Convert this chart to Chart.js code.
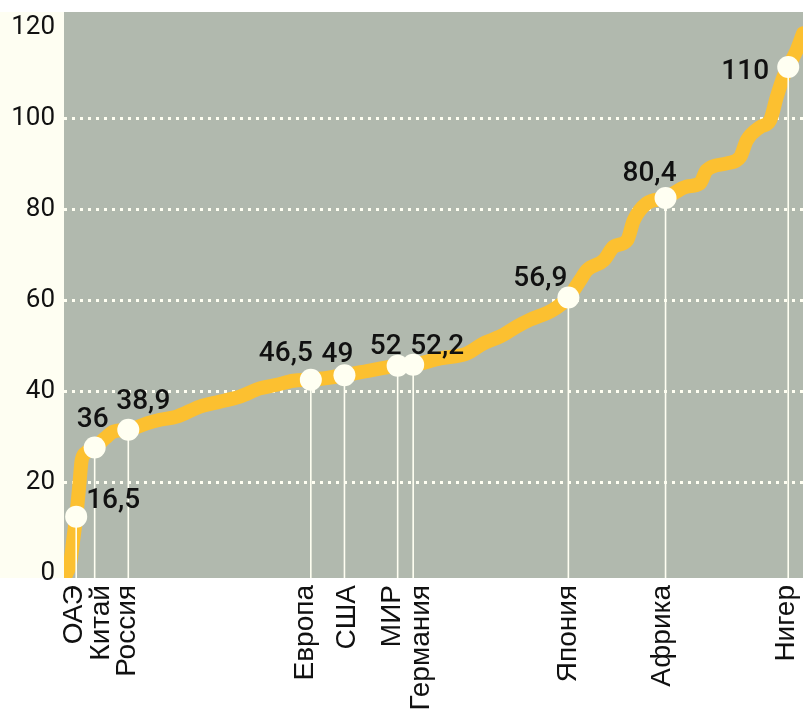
<!DOCTYPE html>
<html><head><meta charset="utf-8">
<script src="https://cdn.jsdelivr.net/npm/chart.js@4"></script>
<style>html,body{margin:0;padding:0;background:#fff}#wrap{width:803px;height:714px;position:relative}</style>
</head><body><div id="wrap"><canvas id="c" width="803" height="714"></canvas></div>
<script>
// ---- data ----
const curveRank = [0,1.6,2.6,3.3,4.1,4.8,6,8.3,11.2,13.4,17.4,22.4,26,30.5,36.8,42.2,47.6,53,57.6,62.1,66.8,75.9,83.7,90.3,94.5,101.8,109,113.5,118,122.5,126.1,132.4,136.5,139.7,141.5,146.1,148.8,152.4,154.2,157.7,162.8,168.5,172.1,173.9,179.4,183,184.8,188.4,191.1,192.9,194.7,196,198.3,200];
const curveValue = [-1,2,8,12.5,19,25,26.6,27.7,29.8,31.2,31.6,33.0,33.8,34.5,36.7,37.8,38.9,40.7,41.5,42.4,42.6,43.6,44.8,45.7,45.9,47.3,48.4,50.6,52.1,54.3,55.8,58.0,60.7,64.5,66.7,68.9,71.9,73.3,77.7,81.4,82.6,85.1,85.8,88.7,90.2,91.6,95.3,98.2,99.7,104.8,109.2,111.4,115.1,118.8];
const markerNames = ['ОАЭ','Китай','Россия','Европа','США','МИР','Германия','Япония','Африка','Нигер'];
const markerRank = [3.3,8.3,17.4,66.8,75.9,90.3,94.5,136.5,162.8,196];
const markerValue = [12.5,27.7,31.6,42.6,43.6,45.7,45.9,60.7,82.6,111.4];
const markerLabels = ['16,5','36','38,9','46,5','49','52','52,2','56,9','80,4','110'];
const yTickValues = [0,20,40,60,80,100,120];

// ---- layout nudges (pixels) ----
const labelDX = [37,-2,15,-25,-7,-12,24,-28,-16,-43];
const labelDY = [-19,-31,-31,-29,-23,-22,-21,-22,-27,2];
const nameDX = [-4,4.5,-3,-8,1,-8,6,-2,-6,-4];

const PLOT_BG = '#b1b9ae';
const CREAM = '#fefef2';
const YELLOW = '#fcc030';
const DOT = '#fffff2';

const decor = {
  id: 'decor',
  beforeDraw(chart) {
    const {ctx, chartArea: a} = chart;
    ctx.save();
    ctx.fillStyle = CREAM;
    ctx.fillRect(0, a.top, a.left, a.bottom - a.top);
    ctx.fillStyle = PLOT_BG;
    ctx.fillRect(a.left, a.top, a.right - a.left, a.bottom - a.top);
    ctx.restore();
  },
  afterDatasetDraw(chart, args) {
    if (args.index !== 1) return;
    const {ctx, chartArea: a, scales: {x, y}} = chart;
    ctx.save();
    ctx.strokeStyle = DOT;
    ctx.lineWidth = 1.6;
    markerRank.forEach((r, i) => {
      const px = x.getPixelForValue(r), py = y.getPixelForValue(markerValue[i]);
      ctx.beginPath();
      ctx.moveTo(px, py);
      ctx.lineTo(px, a.bottom);
      ctx.stroke();
    });
    ctx.restore();
  },
  afterDraw(chart) {
    const {ctx, chartArea: a, scales: {x, y}} = chart;
    ctx.save();
    ctx.fillStyle = '#111';
    ctx.font = '500 28px Roboto';
    ctx.textAlign = 'center';
    ctx.textBaseline = 'alphabetic';
    markerRank.forEach((r, i) => {
      const px = x.getPixelForValue(r), py = y.getPixelForValue(markerValue[i]);
      ctx.fillText(markerLabels[i], px + labelDX[i], py + labelDY[i] + 10);
    });
    ctx.font = '28px "Liberation Sans", Arial, sans-serif';
    ctx.textAlign = 'right';
    markerRank.forEach((r, i) => {
      const px = x.getPixelForValue(r);
      ctx.save();
      ctx.translate(px + nameDX[i] + 10, a.bottom + 7);
      ctx.rotate(-Math.PI / 2);
      ctx.fillText(markerNames[i], 0, 0);
      ctx.restore();
    });
    ctx.restore();
  }
};

new Chart(document.getElementById('c'), {
  data: {
    datasets: [
      {
        type: 'scatter',
        order: 0,
        data: markerRank.map((r, i) => ({x: r, y: markerValue[i]})),
        pointRadius: 11,
        pointBackgroundColor: DOT,
        pointBorderWidth: 0,
        clip: false
      },
      {
        type: 'line',
        order: 1,
        data: curveRank.map((r, i) => ({x: r, y: curveValue[i]})),
        borderColor: YELLOW,
        borderWidth: 14,
        borderJoinStyle: 'round',
        borderCapStyle: 'round',
        cubicInterpolationMode: 'monotone',
        pointRadius: 0,
        fill: false,
        clip: 0
      }
    ]
  },
  options: {
    responsive: false,
    animation: false,
    events: [],
    layout: {autoPadding: false, padding: {top: 12, right: 0, left: 0, bottom: 0}},
    plugins: {legend: {display: false}, tooltip: {enabled: false}},
    scales: {
      x: {
        type: 'linear', min: 0, max: 200,
        ticks: {display: false},
        grid: {display: false},
        border: {display: false},
        afterFit(s) { s.height = 136; s.paddingLeft = 0; s.paddingRight = 0; }
      },
      y: {
        type: 'linear', min: -1, max: 123.5,
        afterBuildTicks(s) { s.ticks = yTickValues.map(v => ({value: v})); },
        ticks: {
          color: '#111',
          font: {family: 'Roboto', size: 26, weight: 400},
          padding: 9
        },
        grid: {
          drawTicks: false,
          lineWidth: 3,
          color: (c) => (c.tick && (c.tick.value === 0 || c.tick.value === 120)) ? 'rgba(0,0,0,0)' : DOT
        },
        border: {display: false, dash: [3, 5]},
        afterFit(s) { s.width = 64; s.paddingTop = 0; s.paddingBottom = 0; }
      }
    }
  },
  plugins: [decor]
});
</script>
</body></html>
